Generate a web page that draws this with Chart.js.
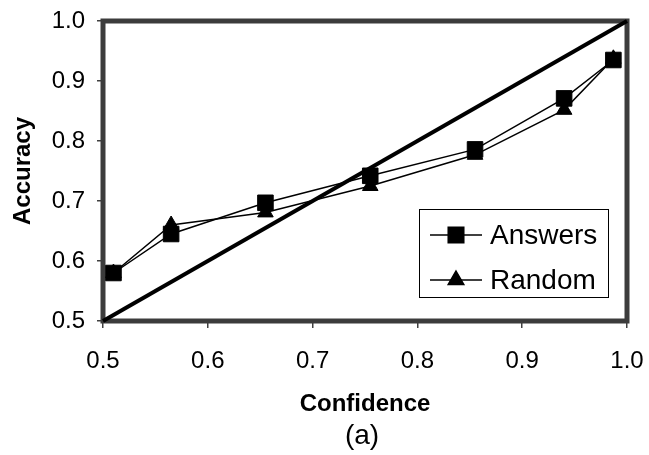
<!DOCTYPE html>
<html>
<head>
<meta charset="utf-8">
<script src="https://cdn.jsdelivr.net/npm/chart.js@4.4.1/dist/chart.umd.min.js"></script>
<style>
  html, body { margin: 0; padding: 0; background: #fff; }
  #wrap { width: 649px; height: 455px; }
</style>
</head>
<body>
<div id="wrap"><canvas id="chart" width="649" height="455"></canvas></div>
<script>
// calibration data: confidence bins vs. observed accuracy
const confidence = [0.51, 0.565, 0.655, 0.755, 0.855, 0.94, 0.987];
const answersAccuracy = [0.58, 0.645, 0.697, 0.742, 0.786, 0.871, 0.935];
const randomAccuracy = [0.58, 0.66, 0.681, 0.725, 0.777, 0.852, 0.937];
const diagonal = [0.5, 1.0];
const tickValues = [0.5, 0.6, 0.7, 0.8, 0.9, 1.0];
const seriesNames = ['Answers', 'Random'];

const FONT = "'Liberation Sans', Arial, sans-serif";
const toPoints = (xs, ys) => xs.map((x, i) => ({ x: x, y: ys[i] }));

const frame = {
    id: 'frame',
    beforeDatasetsDraw(chart) {
        const { ctx, chartArea: a } = chart;
        ctx.save();
        ctx.strokeStyle = '#3c3c3c';
        ctx.lineWidth = 5;
        ctx.strokeRect(a.left, a.top, a.right - a.left, a.bottom - a.top);
        ctx.restore();
    }
};

const boxLegend = {
    id: 'boxLegend',
    afterDraw(chart) {
        const { ctx, chartArea: a } = chart;
        const left = a.right - 208;
        const top = a.top + 188;
        ctx.save();
        ctx.fillStyle = '#fff';
        ctx.fillRect(left, top, 189, 88);
        ctx.strokeStyle = '#000';
        ctx.lineWidth = 1;
        ctx.strokeRect(left + 0.5, top + 0.5, 189, 88);

        seriesNames.forEach((name, i) => {
            const ds = chart.data.datasets[i];
            const y = top + 26 + i * 45;
            ctx.strokeStyle = '#000';
            ctx.lineWidth = 1.5;
            ctx.beginPath();
            ctx.moveTo(left + 11, y);
            ctx.lineTo(left + 63, y);
            ctx.stroke();
            ctx.fillStyle = '#000';
            Chart.helpers.drawPoint(ctx, {
                pointStyle: ds.pointStyle,
                radius: ds.pointRadius,
                rotation: 0,
                borderWidth: 1
            }, left + 37, y);
            ctx.fillStyle = '#000';
            ctx.font = '28px ' + FONT;
            ctx.textAlign = 'left';
            ctx.textBaseline = 'middle';
            ctx.fillText(name, left + 71, y + 1);
        });

        // panel caption under the axis title
        ctx.fillStyle = '#000';
        ctx.font = '28px ' + FONT;
        ctx.textAlign = 'center';
        ctx.textBaseline = 'middle';
        ctx.fillText('(a)', (a.left + a.right) / 2 - 3, 436);
        ctx.restore();
    }
};

const axisTicks = (scale) => {
    scale.ticks = tickValues.map((v) => ({ value: v }));
};

new Chart(document.getElementById('chart'), {
    type: 'line',
    data: {
        datasets: [
            {
                label: seriesNames[0],
                data: toPoints(confidence, answersAccuracy),
                borderColor: '#000',
                backgroundColor: '#000',
                borderWidth: 1.5,
                pointStyle: 'rect',
                pointRadius: 11,
                pointBorderWidth: 1,
                clip: false
            },
            {
                label: seriesNames[1],
                data: toPoints(confidence, randomAccuracy),
                borderColor: '#000',
                backgroundColor: '#000',
                borderWidth: 1.5,
                pointStyle: 'triangle',
                pointRadius: 9,
                pointBorderWidth: 1,
                clip: false
            },
            {
                label: 'Perfect calibration',
                data: toPoints(diagonal, diagonal),
                borderColor: '#000',
                borderWidth: 4,
                pointRadius: 0,
                clip: false
            }
        ]
    },
    options: {
        responsive: false,
        animation: false,
        layout: { padding: { top: 21, right: 22, left: 0, bottom: 0 } },
        plugins: {
            legend: { display: false },
            tooltip: { enabled: false }
        },
        scales: {
            x: {
                type: 'linear',
                min: 0.5,
                max: 1.0,
                afterBuildTicks: axisTicks,
                afterFit: (s) => {
                    s.height = 134;
                    s.paddingLeft = 0;
                    s.paddingRight = 0;
                },
                border: { display: false },
                grid: { drawOnChartArea: false, tickLength: 7, color: '#404040', lineWidth: 1.5 },
                ticks: {
                    color: '#000',
                    padding: 19,
                    maxRotation: 0,
                    font: { family: FONT, size: 24 },
                    callback: (v) => Number(v).toFixed(1)
                },
                title: {
                    display: true,
                    text: 'Confidence',
                    color: '#000',
                    font: { family: FONT, size: 24, weight: 'bold' },
                    padding: { top: 0, bottom: 36 }
                }
            },
            y: {
                type: 'linear',
                min: 0.5,
                max: 1.0,
                afterBuildTicks: axisTicks,
                afterFit: (s) => {
                    s.width = 103;
                    s.paddingTop = 0;
                    s.paddingBottom = 0;
                },
                border: { display: false },
                grid: { drawOnChartArea: false, tickLength: 6, color: '#404040', lineWidth: 1.5 },
                ticks: {
                    color: '#000',
                    padding: 12,
                    font: { family: FONT, size: 24 },
                    callback: (v) => Number(v).toFixed(1)
                },
                title: {
                    display: true,
                    text: 'Accuracy',
                    color: '#000',
                    font: { family: FONT, size: 24, weight: 'bold' },
                    padding: { top: 9, bottom: 0 }
                }
            }
        }
    },
    plugins: [frame, boxLegend]
});
</script>
</body>
</html>
